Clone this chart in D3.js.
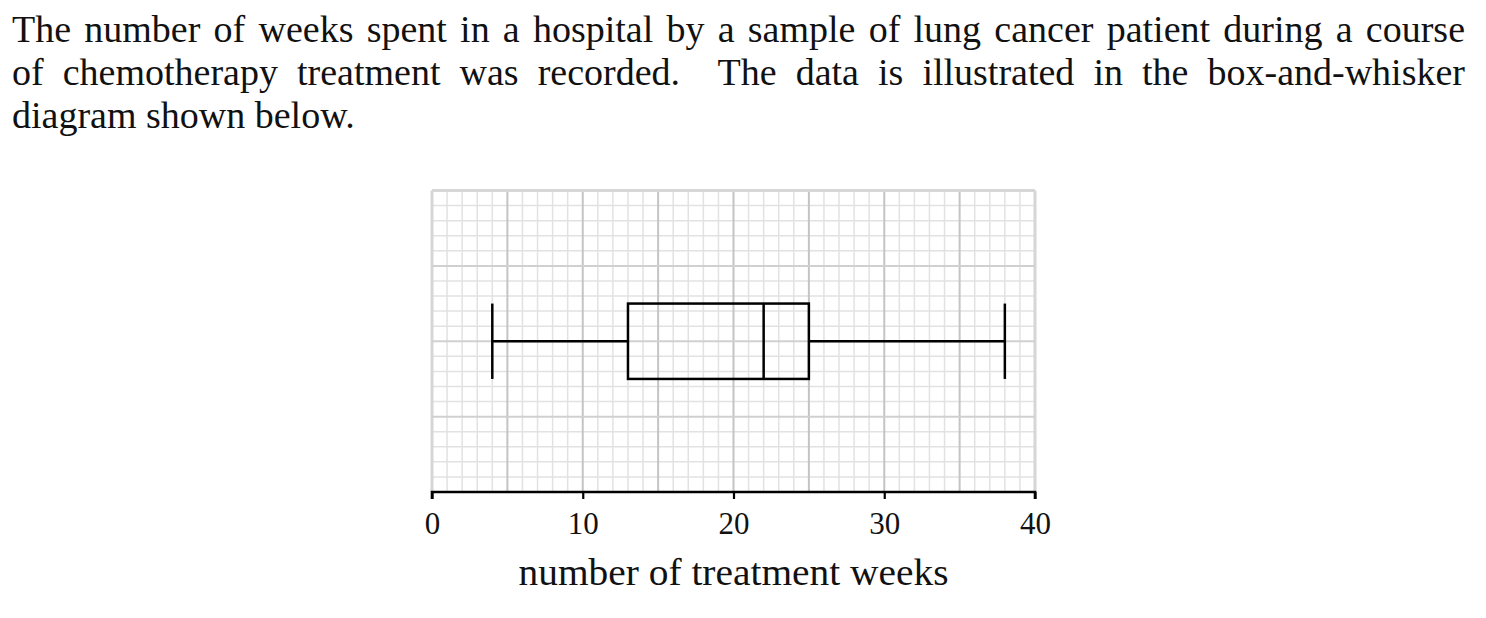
<!DOCTYPE html>
<html>
<head>
    <title>Box plot</title>
    <script src="https://d3js.org/d3.v7.min.js"></script>
    <style>
        body { margin: 0; background: #fff; }
        svg { display: block; font-family: "Liberation Serif", serif; }
    </style>
</head>
<body>
    <svg id="chart"></svg>
    <script>
        // question text, one entry per printed line
        const textLines = [
            "The number of weeks spent in a hospital by a sample of lung cancer patient during a course",
            "of chemotherapy treatment was recorded.  The data is illustrated in the box-and-whisker",
            "diagram shown below."
        ];
        const justified = [true, true, false];

        // five number summary: min, Q1, median, Q3, max
        const summary = [4, 13, 22, 25, 38];
        const xTicks = [0, 10, 20, 30, 40];
        const xLabel = "number of treatment weeks";

        const width = 1486, height = 618;
        const svg = d3.select("#chart")
            .attr("width", width)
            .attr("height", height);

        // paragraph, justified by stretching the spaces
        const textLeft = 12, textRight = 1465;
        textLines.forEach((line, i) => {
            const t = svg.append("text")
                .attr("x", textLeft)
                .attr("y", 42 + i * 43)
                .attr("font-size", 38)
                .attr("fill", "#111")
                .attr("xml:space", "preserve")
                .text(line);
            if (justified[i]) {
                const natural = t.node().getComputedTextLength();
                const spaces = (line.match(/ /g) || []).length;
                t.attr("word-spacing", (textRight - textLeft - natural) / spaces);
            }
        });

        // scales
        const x = d3.scaleLinear().domain([0, 40]).range([432, 1035]);
        const y = d3.scaleLinear().domain([0, 20]).range([492, 190.5]);

        const grid = svg.append("g");

        // minor grid (every 1 week)
        grid.selectAll(".vminor")
            .data(d3.range(0, 41).filter(d => d % 5))
            .join("line")
            .attr("x1", d => x(d)).attr("x2", d => x(d))
            .attr("y1", y(0)).attr("y2", y(20))
            .attr("stroke", "#e2e2e2").attr("stroke-width", 1.5);
        grid.selectAll(".hminor")
            .data(d3.range(0, 21).filter(d => d % 5))
            .join("line")
            .attr("y1", d => y(d)).attr("y2", d => y(d))
            .attr("x1", x(0)).attr("x2", x(40))
            .attr("stroke", "#e2e2e2").attr("stroke-width", 1.5);

        // major grid (every 5 weeks)
        grid.selectAll(".vmajor")
            .data(d3.range(0, 41, 5))
            .join("line")
            .attr("x1", d => x(d)).attr("x2", d => x(d))
            .attr("y1", y(0)).attr("y2", y(20))
            .attr("stroke", d => (d === 0 || d === 40) ? "#d6d6d6" : "#c4c4c4")
            .attr("stroke-width", d => (d === 0 || d === 40) ? 3 : 2);
        grid.selectAll(".hmajor")
            .data(d3.range(5, 21, 5))
            .join("line")
            .attr("y1", d => y(d)).attr("y2", d => y(d))
            .attr("x1", x(0)).attr("x2", x(40))
            .attr("stroke", d => d === 20 ? "#d6d6d6" : "#d0d0d0")
            .attr("stroke-width", d => d === 20 ? 3 : 2);

        // box and whiskers
        const [mn, q1, med, q3, mx] = summary;
        const yc = 10, half = 2.5;
        const box = svg.append("g")
            .attr("stroke", "#000")
            .attr("stroke-width", 2.5)
            .attr("fill", "none");

        box.append("line")
            .attr("x1", x(mn)).attr("x2", x(q1))
            .attr("y1", y(yc)).attr("y2", y(yc));
        box.append("line")
            .attr("x1", x(q3)).attr("x2", x(mx))
            .attr("y1", y(yc)).attr("y2", y(yc));
        box.append("rect")
            .attr("x", x(q1)).attr("width", x(q3) - x(q1))
            .attr("y", y(yc + half)).attr("height", y(yc - half) - y(yc + half));
        [mn, med, mx].forEach(v => {
            box.append("line")
                .attr("x1", x(v)).attr("x2", x(v))
                .attr("y1", y(yc + half)).attr("y2", y(yc - half));
        });

        // x axis
        const axis = svg.append("g")
            .attr("transform", `translate(0,${y(0)})`)
            .call(d3.axisBottom(x).tickValues(xTicks).tickSize(7).tickPadding(13));
        axis.select(".domain")
            .attr("d", `M${x(0)},7V0H${x(40)}V7`)
            .attr("stroke", "#000")
            .attr("stroke-width", 2.6);
        axis.selectAll(".tick line").attr("stroke", "#000").attr("stroke-width", 2.2);
        axis.selectAll(".tick text")
            .attr("font-family", "Liberation Serif, serif")
            .attr("font-size", 31)
            .attr("fill", "#111");

        svg.append("text")
            .attr("x", x(20))
            .attr("y", 585)
            .attr("text-anchor", "middle")
            .attr("font-size", 37)
            .attr("textLength", 430)
            .attr("lengthAdjust", "spacingAndGlyphs")
            .attr("fill", "#111")
            .text(xLabel);
    </script>
</body>
</html>
